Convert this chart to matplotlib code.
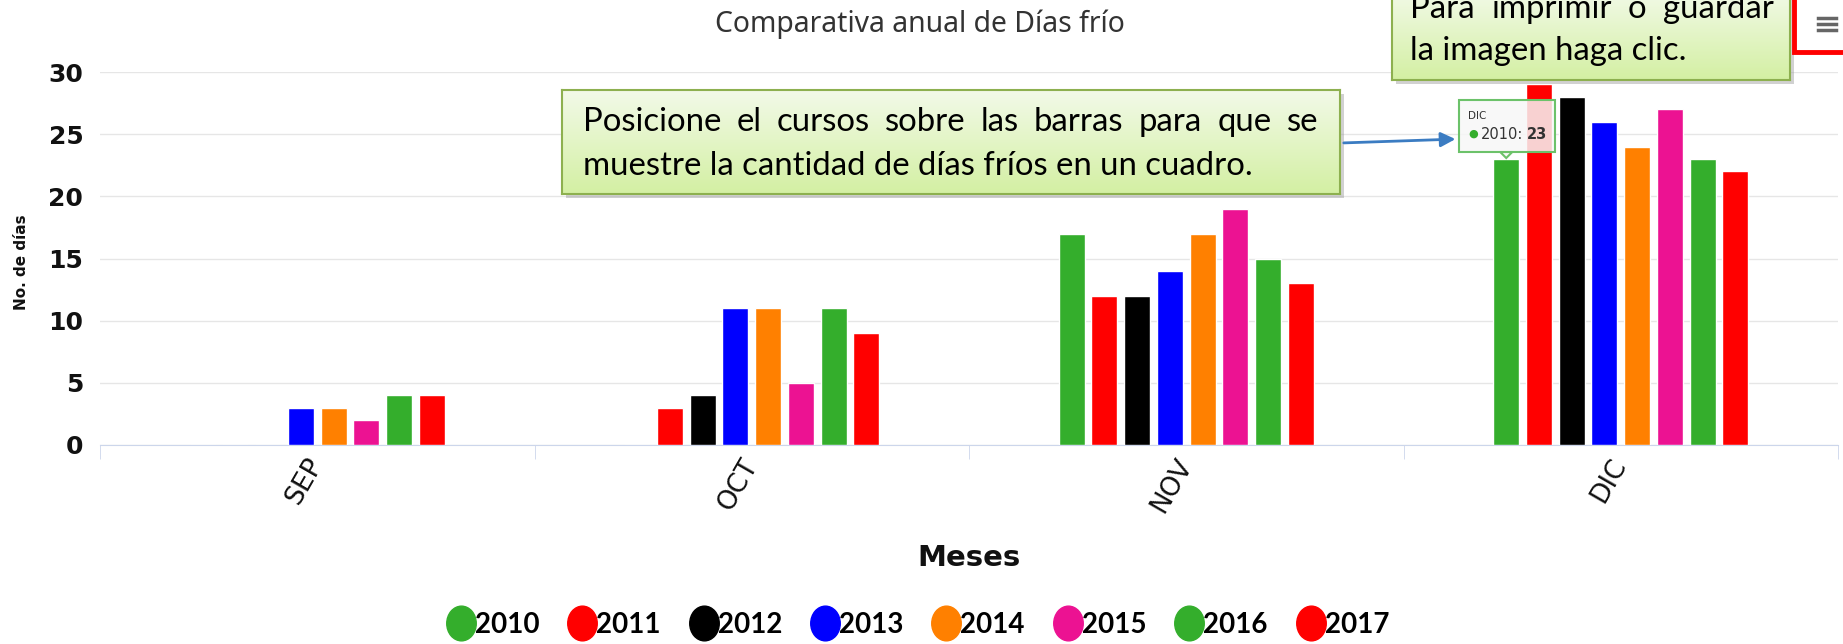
import matplotlib.pyplot as plt
import numpy as np
from matplotlib.patches import Rectangle, Polygon, FancyArrowPatch
from matplotlib.lines import Line2D
from matplotlib.path import Path
from matplotlib.transforms import Affine2D

months = ["SEP", "OCT", "NOV", "DIC"]
years = ["2010", "2011", "2012", "2013", "2014", "2015", "2016", "2017"]
colors = ["#34ae2c", "#ff0000", "#000000", "#0000ff",
          "#ff8000", "#ec1292", "#34ae2c", "#ff0000"]

d2010 = [0, 0, 17, 23]
d2011 = [0, 3, 12, 29]
d2012 = [0, 4, 12, 28]
d2013 = [3, 11, 14, 26]
d2014 = [3, 11, 17, 24]
d2015 = [2, 5, 19, 27]
d2016 = [4, 11, 15, 23]
d2017 = [4, 9, 13, 22]
series = [d2010, d2011, d2012, d2013, d2014, d2015, d2016, d2017]

W, H = 1843, 644
FONT = "Lato"


def fx(x):
    return x / W


def fy(y):
    return 1 - y / H


fig = plt.figure(figsize=(W / 100, H / 100), dpi=100)
fig.patch.set_facecolor("white")
renderer = fig.canvas.get_renderer()


def text_w(s, fs, family=FONT, weight="normal"):
    t = fig.text(0, 0, s, fontsize=fs, family=family, fontweight=weight)
    w = t.get_window_extent(renderer).width
    t.remove()
    return w


def fit(s, target, family=FONT, weight="normal"):
    return 20 * target / text_w(s, 20, family, weight)


ax = fig.add_axes([fx(100), fy(445), fx(1838) - fx(100), fy(72) - fy(445)])
x = np.arange(len(months))
step = 0.0753
width = 0.06
for i, (vals, c) in enumerate(zip(series, colors)):
    ax.bar(x + (i - 3.5) * step, vals, width, color=c, edgecolor="white",
           linewidth=1, zorder=3)

ax.set_xlim(-0.5, 3.5)
ax.set_ylim(0, 30)
ax.set_yticks(range(0, 31, 5))
ax.grid(axis="y", color="#e6e6e6", lw=1)
ax.set_axisbelow(True)
for s in ["left", "right", "top"]:
    ax.spines[s].set_visible(False)
ax.spines["bottom"].set_color("#ccd6eb")
ax.tick_params(axis="y", length=0, pad=12, labelsize=18, labelcolor="#111")
for lb in ax.get_yticklabels():
    lb.set_fontfamily("DejaVu Sans")
    lb.set_fontweight("bold")
ax.set_xticks(x)
ax.set_xticklabels(months, rotation=60, ha="right", va="center",
                   rotation_mode="anchor", fontsize=19, color="#111",
                   family="DejaVu Sans")
ax.tick_params(axis="x", length=0, pad=11)
ax.set_xticks(np.arange(-0.5, 4, 1), minor=True)
ax.tick_params(axis="x", which="minor", length=10, color="#ccd6eb")

title = "Comparativa anual de Días frío"
fig.text(fx(920), fy(24), title, ha="center", va="center",
         fontsize=fit(title, 411, "Noto Sans"), color="#333",
         family="Noto Sans")
fig.text(fx(969), fy(558), "Meses", ha="center", va="center",
         fontsize=fit("Meses", 103, "DejaVu Sans", "bold"),
         fontweight="bold", color="#111", family="DejaVu Sans")
fig.text(fx(22), fy(262), "No. de días", rotation=90, ha="center",
         va="center", fontsize=11, fontweight="bold", color="#111")

# legend
ell = Path.unit_circle().transformed(Affine2D().scale(0.85, 1.0))
handles = [Line2D([], [], ls="none", marker=ell, markersize=25,
                  markerfacecolor=c, markeredgecolor=c) for c in colors]
fig.legend(handles, years, loc="center", bbox_to_anchor=(fx(918), fy(625)),
           ncol=8, frameon=False, handletextpad=0.0, columnspacing=1.05,
           handlelength=1.0, prop={"family": FONT, "weight": "bold", "size": 20})


def justified(words, x0, x1, y, fs):
    ws = [text_w(w, fs) for w in words]
    gap = (x1 - x0 - sum(ws)) / (len(words) - 1)
    xx = x0
    for w, wd in zip(words, ws):
        fig.text(fx(xx), fy(y), w, fontsize=fs, family=FONT, va="center",
                 ha="left", zorder=12)
        xx += wd + gap


def green_box(x0, y0, x1, y1):
    sh = Rectangle((fx(x0 + 4), fy(y1 + 4)), (x1 - x0) / W, (y1 - y0) / H,
                   transform=fig.transFigure, facecolor="#999999",
                   alpha=0.45, edgecolor="none", zorder=9)
    fig.add_artist(sh)
    bx = fig.add_axes([fx(x0), fy(y1), (x1 - x0) / W, (y1 - y0) / H])
    bx.set_zorder(10)
    top = np.array([0.95, 0.98, 0.91])
    bot = np.array([0.83, 0.94, 0.64])
    g = np.linspace(0, 1, 64)[:, None, None]
    img = top * (1 - g) + bot * g
    bx.imshow(np.repeat(img, 2, axis=1), aspect="auto", extent=[0, 1, 0, 1])
    bx.set_xticks([])
    bx.set_yticks([])
    for s in bx.spines.values():
        s.set_color("#8db04f")
        s.set_linewidth(1.5)


# box 1
fs_box = fit("muestre la cantidad de días fríos en un cuadro.", 672)
green_box(562, 90, 1340, 194)
justified("Posicione el cursos sobre las barras para que se".split(),
          583, 1318, 122, fs_box)
fig.text(fx(583), fy(166), "muestre la cantidad de días fríos en un cuadro.",
         fontsize=fs_box, family=FONT, va="center", ha="left", zorder=12)

# box 2 (cut at the top edge, as in the screenshot)
green_box(1392, -10, 1790, 80)
justified("Para imprimir o guardar".split(), 1410, 1774, 9, fs_box)
fig.text(fx(1410), fy(51), "la imagen haga clic.", fontsize=fs_box,
         family=FONT, va="center", ha="left", zorder=12)

# export button
fig.add_artist(Rectangle((fx(1794), fy(52)), 60 / W, 60 / H,
                         transform=fig.transFigure, facecolor="white",
                         edgecolor="#ff0000", lw=3.5, zorder=11))
for yy in (18, 24, 30):
    fig.add_artist(Line2D([fx(1818), fx(1836)], [fy(yy), fy(yy)],
                          transform=fig.transFigure, color="#666666",
                          lw=2.5, zorder=12))

# tooltip anchored to DIC 2010 bar
tx, ty = ax.transData.transform((3 + (0 - 3.5) * step, d2010[3]))
ty = H - ty
tip_y = ty - 1
bx0, bx1, by0, by1 = tx - 47, tx + 49, tip_y - 58, tip_y - 6
tip_bg = (0.97, 0.97, 0.97, 0.85)
fig.add_artist(Rectangle((fx(bx0), fy(by1)), (bx1 - bx0) / W, (by1 - by0) / H,
                         transform=fig.transFigure, facecolor=tip_bg,
                         edgecolor="#6cc26a", lw=1.5, zorder=13))
fig.add_artist(Polygon([(fx(tx - 6), fy(by1)), (fx(tx + 6), fy(by1)),
                        (fx(tx), fy(tip_y))], closed=True,
                       transform=fig.transFigure, facecolor=tip_bg,
                       edgecolor="#6cc26a", lw=1.5, zorder=13))
fig.text(fx(bx0 + 9), fy(by0 + 16), months[3], fontsize=7.5, color="#333",
         va="center", zorder=14)
fig.text(fx(bx0 + 9), fy(by0 + 34), "●", fontsize=8, color=colors[0],
         va="center", zorder=14)
fig.text(fx(bx0 + 22), fy(by0 + 34), years[0] + ":", fontsize=10.5,
         color="#333", va="center", zorder=14)
fig.text(fx(bx0 + 68), fy(by0 + 34), str(d2010[3]), fontsize=10.5,
         color="#333", va="center", fontweight="bold", zorder=14)

# arrow from box 1 to tooltip
fig.add_artist(FancyArrowPatch((fx(1341), fy(143)), (fx(bx0 - 1), fy(139)),
                               transform=fig.transFigure, arrowstyle="-|>",
                               mutation_scale=22, color="#3b7cc2", lw=2,
                               zorder=12))

fig.savefig("out.png", dpi=100)
